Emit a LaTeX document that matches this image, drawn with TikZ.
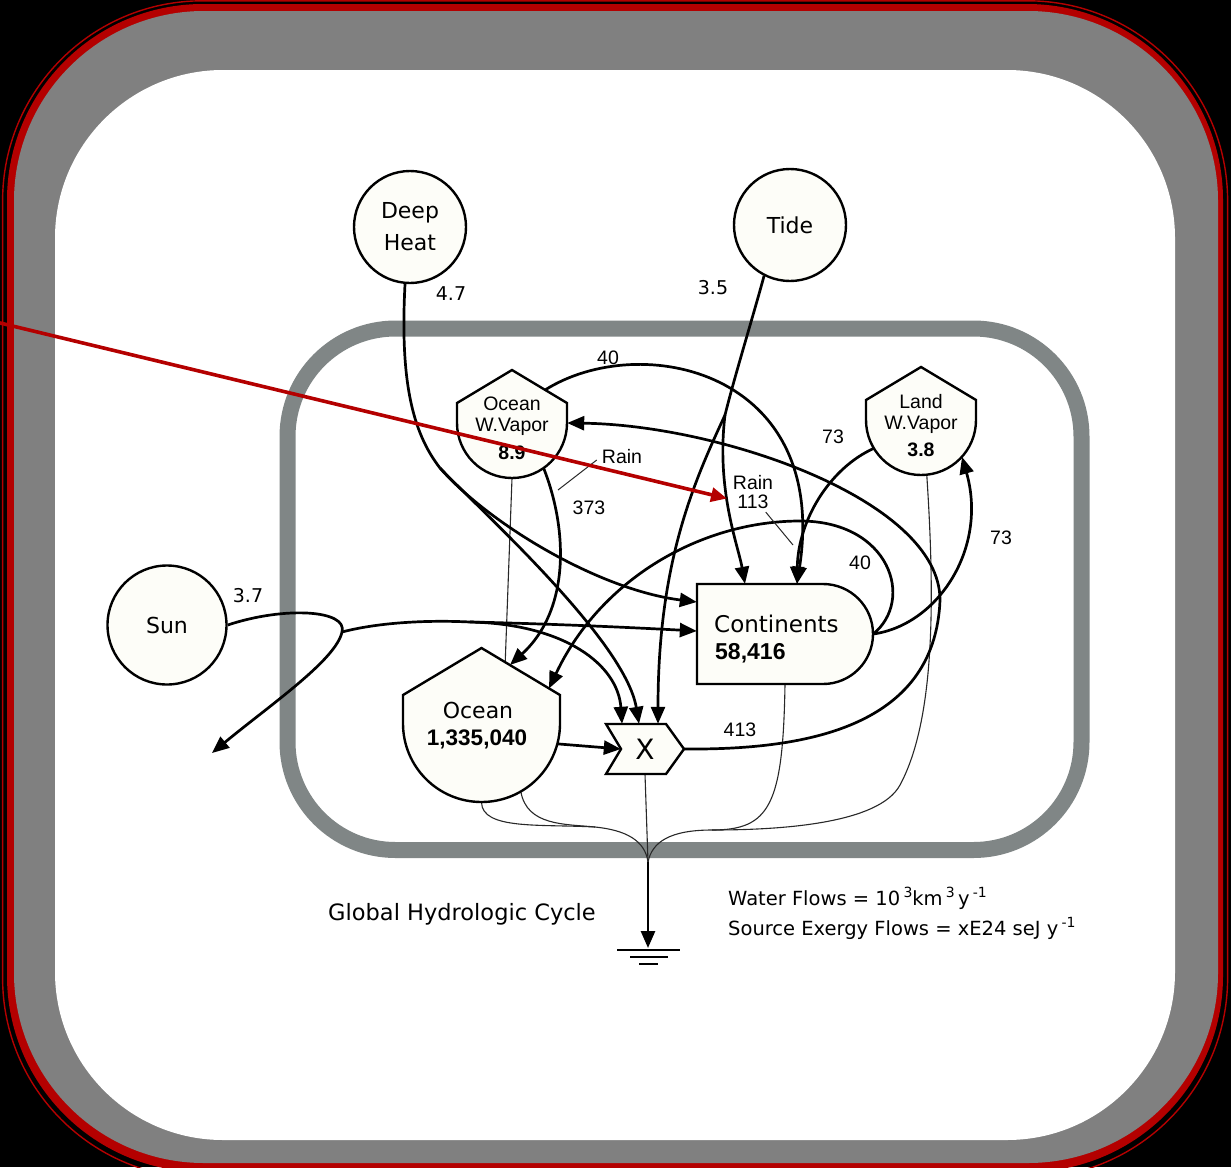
\documentclass[tikz,border=0pt]{standalone}
\usepackage{fontspec}
\newfontfamily\lgfont{DejaVu Sans}
\newfontfamily\hvfont{Liberation Sans}
\usetikzlibrary{arrows.meta}
\definecolor{framered}{RGB}{180,0,0}
\definecolor{bandgray}{RGB}{128,128,128}
\definecolor{sysgray}{RGB}{128,134,134}
\definecolor{tankfill}{RGB}{253,253,248}
\definecolor{sinkc}{RGB}{40,40,40}
\pgfdeclarelayer{bg}
\pgfdeclarelayer{back}
\pgfsetlayers{bg,back,main}
\newcommand{\supx}[1]{\raisebox{8pt}{\fontsize{14}{16}\selectfont #1}}
\begin{document}
\begin{tikzpicture}[x=1pt,y=-1pt,
  flow/.style={line width=2.7pt,-{Triangle[length=17pt,width=14pt]}},
  flowplain/.style={line width=2.7pt},
  sinkline/.style={line width=1.1pt,draw=sinkc},
  tickline/.style={line width=1pt,draw=sinkc},
  shapeline/.style={draw=black,line width=2.4pt,fill=tankfill,line join=miter},
  srcnode/.style={circle,draw=black,line width=2.4pt,fill=tankfill,inner sep=0pt,align=center,font={\lgfont\fontsize{22}{32}\selectfont}},
  anchornode/.style={circle,inner sep=0pt},
  txtlg/.style={inner sep=0pt,anchor=base,font={\lgfont\fontsize{22}{26}\selectfont}},
  txthv/.style={inner sep=0pt,anchor=base,font={\hvfont\fontsize{19.5}{22}\selectfont}},
  txthvb/.style={inner sep=0pt,anchor=base,font={\hvfont\bfseries\fontsize{19.5}{22}\selectfont}},
  numlbl/.style={inner sep=0pt,font={\lgfont\fontsize{19}{22}\selectfont}},
  hvlbl/.style={inner sep=0pt,font={\hvfont\fontsize{19.5}{22}\selectfont}},
  redarrow/.style={draw=framered,line width=3.6pt,-{Triangle[length=16pt,width=14pt]}}
]
\useasboundingbox (0,0) rectangle (1231,1167);

% ---------- frame ----------
\begin{pgfonlayer}{bg}
\fill[black] (0,0) rectangle (1231,1167);
\draw[framered,line width=1.4pt,rounded corners=200pt] (2.6,0.8) rectangle (1227.6,1178);
\fill[framered,rounded corners=196pt] (7,4) rectangle (1223,1172);
\fill[bandgray,rounded corners=190pt] (14,11) rectangle (1218,1163);
\fill[white,rounded corners=168pt] (55,70) rectangle (1175,1140);
\end{pgfonlayer}

% ---------- system boundary ----------
\begin{pgfonlayer}{back}
\draw[sysgray,line width=16pt,rounded corners=108pt] (287.5,328.5) rectangle (1081.5,850);
\end{pgfonlayer}

% ---------- shapes ----------
% Ocean water vapor tank
\path[shapeline] (512,370) -- (567,403) -- (567,423) .. controls (567,453.4) and (542.4,478) .. (512,478) .. controls (481.6,478) and (457,453.4) .. (457,423) -- (457,403) -- cycle;
\node[anchornode,minimum size=110pt] (ovap) at (512,423) {};
\node[txthv] (ovapt1) at (512,410) {Ocean};
\node[txthv] (ovapt2) at (512,431) {W.Vapor};
\node[txthvb] (ovapt3) at (512,459) {8.9};

% Land water vapor tank
\path[shapeline] (921,367) -- (976,400) -- (976,420) .. controls (976,450.4) and (951.4,475) .. (921,475) .. controls (890.6,475) and (866,450.4) .. (866,420) -- (866,400) -- cycle;
\node[anchornode,minimum size=110pt] (lvap) at (921,420) {};
\node[txthv] (lvapt1) at (921,408) {Land};
\node[txthv] (lvapt2) at (921,429) {W.Vapor};
\node[txthvb] (lvapt3) at (921,456) {3.8};

% Ocean tank
\path[shapeline] (481.5,648) -- (560,695) -- (560,723.5) .. controls (560,766.9) and (524.9,802) .. (481.5,802) .. controls (438.1,802) and (403,766.9) .. (403,723.5) -- (403,695) -- cycle;
\node[anchornode,minimum size=157pt] (ocean) at (481.5,723.5) {};
\node[txtlg] (oceant1) at (478,718) {Ocean};
\node[txthvb,font={\hvfont\bfseries\fontsize{22.5}{26}\selectfont}] (oceant2) at (477,745) {1,335,040};

% Continents
\path[shapeline] (697,584) -- (823,584) .. controls (850.6,584) and (873,606.4) .. (873,634) .. controls (873,661.6) and (850.6,684) .. (823,684) -- (697,684) -- cycle;
\node[minimum width=176pt,minimum height=100pt,inner sep=0pt] (cont) at (785,634) {};
\node[txtlg,anchor=base west,font={\lgfont\fontsize{23}{26}\selectfont}] (contt1) at (714,632.5) {Continents};
\node[txthvb,anchor=base west,font={\hvfont\bfseries\fontsize{23}{26}\selectfont}] (contt2) at (715,659) {58,416};

% Interaction X
\path[shapeline] (606,724) -- (666,724) -- (684,749) -- (666,774) -- (606,774) -- (621,749) -- cycle;
\node[minimum width=78pt,minimum height=50pt,inner sep=0pt,font={\lgfont\fontsize{28}{30}\selectfont}] (xint) at (645,749) {X};

% Sources
\node[srcnode,minimum size=112pt] (deep) at (410,227) {Deep\\Heat};
\node[srcnode,minimum size=112pt] (tide) at (790,225) {Tide};
\node[srcnode,minimum size=119pt] (sun) at (167,625) {Sun};

% ---------- coordinates ----------
\coordinate (sunturn) at (342,632);
\coordinate (sunsink) at (212,753);
\coordinate (sunsplit) at (470,622);
\coordinate (dsplit) at (440,468);
\coordinate (tsplit) at (725,415);
\coordinate (ov40) at (545,390);
\coordinate (ctop) at (800,521);
\coordinate (evtop) at (940,600);
\coordinate (oc373) at (510,665);
\coordinate (oc40) at (549,688.5);
\coordinate (ovdrop) at (505,668);
\coordinate (omerge) at (595,827);
\coordinate (cmerge) at (712,830);
\coordinate (lbend) at (900,785);
\coordinate (sink) at (648,862);
\coordinate (ground) at (648,948);
\coordinate (redA) at (-2,322.5);
\coordinate (redB) at (727,498.5);

% ---------- heat sink lines (behind) ----------
\begin{pgfonlayer}{back}
\draw[sinkline] (ovap.south) -- (ovdrop);
\draw[sinkline] (ocean.south) .. controls (482,830) and (540,824) .. (omerge);
\draw[sinkline] (ocean.-60) .. controls (527,826) and (565,824) .. (omerge);
\draw[sinkline] (omerge) .. controls (625,830) and (645,840) .. (sink);
\draw[sinkline] (xint.south) -- (sink);
\draw[sinkline] (cont.south) .. controls (783,805) and (770,830) .. (cmerge);
\draw[sinkline] (lvap.-84) .. controls (935,600) and (935,720) .. (lbend) .. controls (879,824) and (780,830) .. (cmerge);
\draw[sinkline] (cmerge) .. controls (670,830) and (652,842) .. (sink);
\end{pgfonlayer}

% ---------- flows ----------
% Sun
\draw[flow] (sun.east) .. controls (285,606) and (348,610) .. (sunturn) .. controls (336,660) and (270,705) .. (sunsink);
\draw[flowplain] (sunturn) .. controls (380,622) and (430,620) .. (sunsplit);
\draw[flow] (sunsplit) .. controls (560,624) and (640,628) .. ([yshift=3pt]cont.west);
\draw[flow] (sunsplit) .. controls (565,624) and (618,665) .. ([xshift=-23pt]xint.north);
% Deep heat
\draw[flowplain] (deep.-95) .. controls (400,380) and (412,432) .. (dsplit);
\draw[flow] (dsplit) .. controls (490,525) and (600,590) .. ([yshift=32pt]cont.west);
\draw[flow] (dsplit) .. controls (480,510) and (625,640) .. ([xshift=-6pt]xint.north);
% Tide
\draw[flowplain] (tide.-117) .. controls (752,320) and (735,375) .. (tsplit);
\draw[flow] (tsplit) .. controls (695,480) and (658,560) .. ([xshift=13pt]xint.north);
\draw[flow] (tsplit) .. controls (716,490) and (738,545) .. ([xshift=-40pt]cont.north);
% Rain over land
\draw[flow] (ov40) .. controls (640,330) and (830,370) .. ([xshift=12pt]cont.north);
\draw[flow] (lvap.211) .. controls (830,468) and (798,520) .. ([xshift=12pt]cont.north);
% Runoff to ocean
\draw[flowplain] (cont.east) .. controls (915,600) and (890,521) .. (ctop);
\draw[flow] (ctop) .. controls (700,521) and (600,580) .. (oc40);
% Evapotranspiration
\draw[flow] (cont.east) .. controls (938,625) and (988,548) .. (lvap.-42);
% Evaporation from ocean
\draw[flowplain] (xint.east) .. controls (800,750) and (935,730) .. (evtop);
\draw[flow] (evtop) .. controls (940,500) and (720,425) .. (ovap.east);
% Rain over ocean
\draw[flow] (ovap.-55) .. controls (568,530) and (570,610) .. (oc373);
% Ocean to interaction
\draw[flow] (ocean.-15) -- ([xshift=15pt]xint.west);
% Heat sink
\draw[flow] (sink) -- (ground);
\draw[line width=2pt] (617,950) -- (680,950);
\draw[line width=2pt] (630,957) -- (668,957);
\draw[line width=2pt] (639,963.5) -- (658,963.5);

% ---------- labels ----------
\node[numlbl] (l47) at (451,294) {4.7};
\node[numlbl] (l35) at (713,288) {3.5};
\node[numlbl] (l37) at (248,596) {3.7};
\node[hvlbl] (l40a) at (608,358) {40};
\node[hvlbl] (lrain1) at (622,457) {Rain};
\node[hvlbl] (l373) at (589,508) {373};
\node[hvlbl] (l73a) at (833,437) {73};
\node[hvlbl] (lrain2) at (753,483) {Rain};
\node[hvlbl] (l113) at (753,502) {113};
\node[hvlbl] (l40b) at (860,563) {40};
\node[hvlbl] (l73b) at (1001,538) {73};
\node[hvlbl] (l413) at (740,730) {413};
\draw[tickline] ([xshift=-5pt,yshift=-3pt]lrain1.west) -- (558,490);
\draw[tickline] ([xshift=-3pt,yshift=-3pt]l113.south east) -- (793,545);

\node[inner sep=0pt,anchor=base,font={\lgfont\fontsize{22.5}{26}\selectfont}] (title) at (462,920) {Global Hydrologic Cycle};
\node[inner sep=0pt,anchor=base west,font={\lgfont\fontsize{19.5}{24}\selectfont}] (units1) at (728,905) {Water Flows = 10\,\supx{3}km\,\supx{3}\,y\,\supx{-1}};
\node[inner sep=0pt,anchor=base west,font={\lgfont\fontsize{19.5}{24}\selectfont}] (units2) at (728,935) {Source Exergy Flows = xE24 seJ y\,\supx{-1}};

% ---------- red pointer ----------
\draw[redarrow] (redA) -- (redB);
\end{tikzpicture}
\end{document}
